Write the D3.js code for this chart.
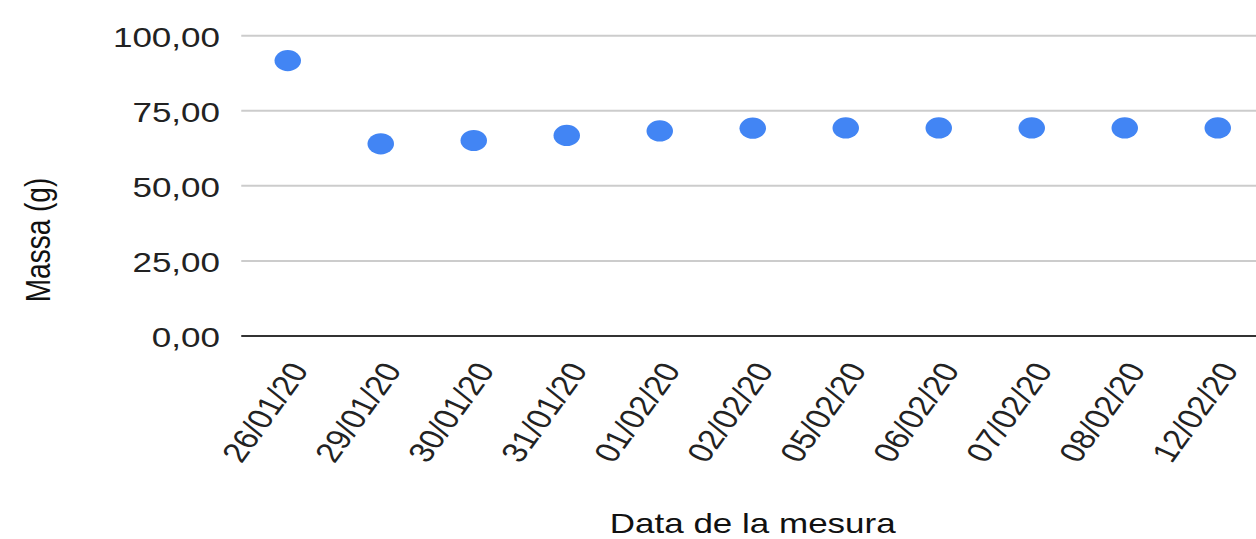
<!DOCTYPE html>
<html lang="ca">
<head>
  <meta charset="UTF-8">
  <title>Massa (g)</title>
  <script src="https://d3js.org/d3.v7.min.js"></script>
  <style>
    html, body {
      margin: 0;
      padding: 0;
      background: #fff;
    }
    svg {
      display: block;
      font-family: "Liberation Sans", Arial, sans-serif;
    }
    .grid line {
      stroke: #cccccc;
      stroke-width: 2px;
    }
    .tick-label {
      font-size: 28px;
      fill: #222;
    }
    .title {
      font-size: 28px;
      fill: #111;
    }
  </style>
</head>
<body>
  <script>
    // data
    const dates = ["26/01/20", "29/01/20", "30/01/20", "31/01/20", "01/02/20", "02/02/20",
                   "05/02/20", "06/02/20", "07/02/20", "08/02/20", "12/02/20"];
    const massa = [91.7, 64.0, 65.1, 66.8, 68.3, 69.2, 69.3, 69.3, 69.3, 69.3, 69.3];
    const yTicks = [0, 25, 50, 75, 100];

    const outW = 1256;
    const outH = 539;
    // the original picture is stretched sideways, so draw narrow and stretch
    const stretch = 1.25;
    const width = outW / stretch;
    const height = outH;

    const margin = {top: 35.7, left: 193, bottom: 203, plotW: 11 * 74.4};

    const svg = d3.select("body").append("svg")
      .attr("width", outW).attr("height", outH)
      .attr("viewBox", `0 0 ${width} ${height}`)
      .attr("preserveAspectRatio", "none");

    const x = d3.scaleBand()
      .domain(dates)
      .range([margin.left, margin.left + margin.plotW]);

    const y = d3.scaleLinear()
      .domain([0, 100])
      .range([height - margin.bottom, margin.top]);

    const fmt = d => d3.format(".2f")(d).replace(".", ",");

    // gridlines
    svg.append("g").attr("class", "grid")
      .selectAll("line")
      .data(yTicks)
      .join("line")
      .attr("x1", margin.left)
      .attr("x2", margin.left + margin.plotW)
      .attr("y1", d => y(d))
      .attr("y2", d => y(d))
      .style("stroke", d => d === 0 ? "#333" : null);

    // y labels
    svg.append("g")
      .selectAll("text")
      .data(yTicks)
      .join("text")
      .attr("class", "tick-label")
      .attr("x", margin.left - 17)
      .attr("y", d => y(d))
      .attr("dy", "0.4em")
      .attr("text-anchor", "end")
      .text(fmt);

    // x labels, rotated
    svg.append("g")
      .selectAll("text")
      .data(dates)
      .join("text")
      .attr("class", "tick-label")
      .attr("text-anchor", "end")
      .attr("dy", "0.35em")
      .attr("transform", d => `translate(${x(d) + x.bandwidth() / 2 + 9}, ${y(0) + 29}) rotate(-60)`)
      .text(d => d);

    // points
    svg.append("g")
      .selectAll("circle")
      .data(massa)
      .join("circle")
      .attr("cx", (d, i) => x(dates[i]) + x.bandwidth() / 2)
      .attr("cy", d => y(d))
      .attr("r", 10.6)
      .attr("fill", "#4285f4");

    // axis titles
    svg.append("text")
      .attr("class", "title")
      .attr("text-anchor", "middle")
      .attr("x", margin.left + margin.plotW / 2)
      .attr("y", 533)
      .text("Data de la mesura");

    svg.append("text")
      .attr("class", "title")
      .attr("text-anchor", "middle")
      .attr("transform", `translate(40, 240) rotate(-90)`)
      .text("Massa (g)");
  </script>
</body>
</html>
